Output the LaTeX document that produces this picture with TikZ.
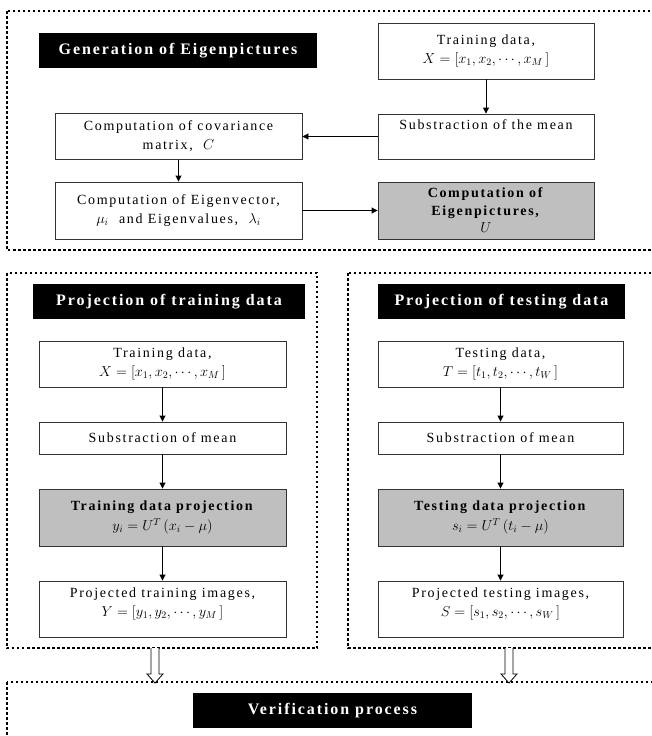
\documentclass[tikz,border=0pt]{standalone}
\usepackage{fontspec}
\setmainfont{Liberation Serif}[LetterSpace=12]
\usetikzlibrary{arrows.meta,calc}
\tikzset{
  box/.style={draw=black!80, line width=0.9pt, fill=white, align=center, inner sep=1pt,
    font=\fontsize{14}{19}\selectfont},
  graybox/.style={box, fill=black!25, font=\fontsize{14}{17.5}\selectfont},
  titlebox/.style={fill=black, text=white, minimum height=35pt, inner sep=0pt,
    font=\fontsize{16}{18}\selectfont\bfseries},
  frame/.style={line width=2pt, dash pattern=on 2.5pt off 2.5pt},
  conn/.style={line width=0.9pt, -{Triangle[length=6pt,width=6pt]}},
  hollow/.style={draw=black, line width=0.8pt, fill=white},
}
\begin{document}
\begin{tikzpicture}[x=1pt,y=-1pt]
\useasboundingbox (0,0) rectangle (652,736);
\clip (0,0) rectangle (652,736);
\fill[white] (0,0) rectangle (652,736);

% frames
\draw[frame] (7,11) rectangle (662,250);
\draw[frame] (7,273) rectangle (317,648);
\draw[frame] (348,273) rectangle (662,648);
\draw[frame] (7,682) rectangle (662,760);

% --- Generation of Eigenpictures ---
\node[titlebox, minimum width=278pt] (tGen) at (178,50.5) {Generation of Eigenpictures};
\node[box, minimum width=216pt, minimum height=56pt] (trainT) at (486,51)
  {Training data,\\ $X=\bigl[x_1,x_2,\cdots,x_M\,\bigr]$};
\node[box, minimum width=216pt, minimum height=45pt] (subT) at (486,136.5)
  {Substraction of the mean\\ \strut};
\node[graybox, minimum width=216pt, minimum height=57pt] (eigP) at (486,210.5)
  {\textbf{Computation of}\\ \textbf{Eigenpictures,}\\ $U$};
\node[box, minimum width=247pt, minimum height=46pt] (cov) at (178.5,136.5)
  {Computation of covariance\\ matrix,~ $C$};
\node[box, minimum width=247pt, minimum height=57pt] (eig) at (178.5,210.5)
  {Computation of Eigenvector,\\ $\mu_i$~ and Eigenvalues,~ $\lambda_i$};

\draw[conn] (trainT) -- (subT);
\draw[conn] (subT) -- (cov);
\draw[conn] (cov) -- (eig);
\draw[conn] (eig) -- (eigP);

% --- Projection of training data ---
\node[titlebox, minimum width=272pt] (tTrain) at (169,301.5) {Projection of training data};
\node[box, minimum width=247pt, minimum height=46pt] (trL) at (162.5,364)
  {Training data,\\ $X=\bigl[x_1,x_2,\cdots,x_M\,\bigr]$};
\node[box, minimum width=247pt, minimum height=32pt] (subL) at (162.5,438)
  {Substraction of mean};
\node[graybox, minimum width=247pt, minimum height=57pt] (projL) at (162.5,517.5)
  {\textbf{Training data projection}\\[2pt] $y_i=U^T\,(x_i-\mu)$};
\node[box, minimum width=247pt, minimum height=56pt] (outL) at (162.5,609)
  {Projected training images,\\ $Y=\bigl[y_1,y_2,\cdots,y_M\,\bigr]$\\[-10pt]\strut};

\draw[conn] (trL) -- (subL);
\draw[conn] (subL) -- (projL);
\draw[conn] (projL) -- (outL);

% --- Projection of testing data ---
\node[titlebox, minimum width=247pt] (tTest) at (501.5,301.5) {Projection of testing data};
\node[box, minimum width=245pt, minimum height=46pt] (trR) at (500.5,364)
  {Testing data,\\ $T=\bigl[t_1,t_2,\cdots,t_W\,\bigr]$};
\node[box, minimum width=245pt, minimum height=32pt] (subR) at (500.5,438)
  {Substraction of mean};
\node[graybox, minimum width=245pt, minimum height=57pt] (projR) at (500.5,517.5)
  {\textbf{Testing data projection}\\[2pt] $s_i=U^T\,(t_i-\mu)$};
\node[box, minimum width=245pt, minimum height=56pt] (outR) at (500.5,609)
  {Projected testing images,\\ $S=\bigl[s_1,s_2,\cdots,s_W\,\bigr]$\\[-10pt]\strut};

\draw[conn] (trR) -- (subR);
\draw[conn] (subR) -- (projR);
\draw[conn] (projR) -- (outR);

% --- Verification ---
\node[titlebox, minimum width=279pt] (tVer) at (332.5,710.5) {Verification process};

% hollow arrows
\coordinate (haL) at (155,648);
\coordinate (haR) at (509,648);
\foreach \c in {haL,haR}{
  \draw[hollow] ($(\c)+(-4,0)$) -- ($(\c)+(-4,26)$) -- ($(\c)+(-8,26)$) -- ($(\c)+(0,35)$)
    -- ($(\c)+(8,26)$) -- ($(\c)+(4,26)$) -- ($(\c)+(4,0)$);
}
\end{tikzpicture}
\end{document}
